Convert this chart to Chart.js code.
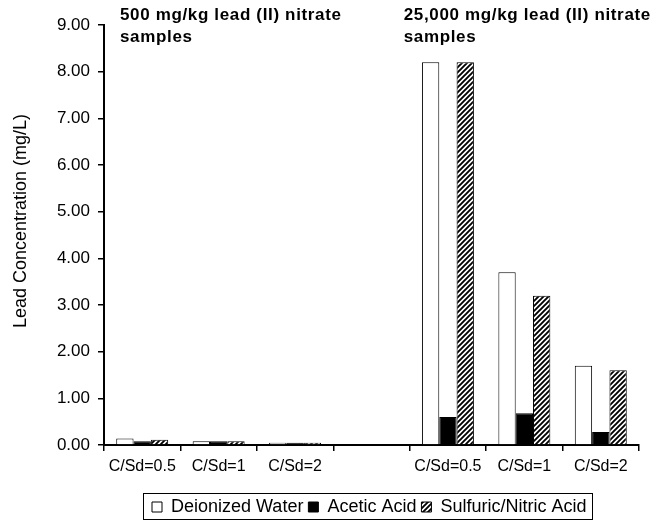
<!DOCTYPE html>
<html>
<head>
<meta charset="utf-8">
<script src="https://cdn.jsdelivr.net/npm/chart.js@4"></script>
<style>
html,body{margin:0;padding:0;background:#fff;}
#wrap{width:661px;height:521px;position:relative;}
</style>
</head>
<body>
<div id="wrap"><canvas id="c" width="661" height="521"></canvas></div>
<script>
const categories = ['C/Sd=0.5','C/Sd=1','C/Sd=2','','C/Sd=0.5','C/Sd=1','C/Sd=2'];
const deionizedWater = [0.14, 0.08, 0.05, null, 8.20, 3.70, 1.70];
const aceticAcid = [0.08, 0.08, 0.05, null, 0.60, 0.68, 0.28];
const sulfuricNitricAcid = [0.11, 0.08, 0.05, null, 8.20, 3.20, 1.60];
const seriesNames = ['Deionized Water','Acetic Acid','Sulfuric/Nitric Acid'];
const yTicks = [0,1,2,3,4,5,6,7,8,9];
const yTitle = 'Lead Concentration (mg/L)';
const groupTitles = [
  ['500 mg/kg lead (II) nitrate','samples'],
  ['25,000 mg/kg lead (II) nitrate','samples']
];

const FONT = "'Liberation Sans', Arial, sans-serif";

function makeHatch(){
  const p = document.createElement('canvas');
  p.width = 5; p.height = 5;
  const g = p.getContext('2d');
  g.fillStyle = '#fff'; g.fillRect(0,0,5,5);
  g.strokeStyle = '#000'; g.lineWidth = 1.9;
  g.beginPath();
  g.moveTo(-1,6); g.lineTo(6,-1);
  g.moveTo(-1,1); g.lineTo(1,-1);
  g.moveTo(4,6); g.lineTo(6,4);
  g.stroke();
  return document.getElementById('c').getContext('2d').createPattern(p,'repeat');
}
const hatch = makeHatch();

const LEGEND_FIRST_BOX_X = 152;
const LEGEND_DY = 5;

const annotate = {
  id:'annotate',
  afterUpdate(chart){
    const lg = chart.legend;
    if (!lg || !lg.legendHitBoxes || !lg.legendHitBoxes.length) return;
    const minLeft = Math.min(...lg.legendHitBoxes.map(h=>h.left));
    const dx = LEGEND_FIRST_BOX_X - minLeft;
    lg.left += dx; lg.right += dx;
    lg.top += LEGEND_DY; lg.bottom += LEGEND_DY;
    lg.legendHitBoxes.forEach(h=>{ h.left += dx; h.top += LEGEND_DY; });
  },
  afterDraw(chart){
    const ctx = chart.ctx;
    const x = chart.scales.x;
    const y = chart.scales.y;
    const catW = x.width / categories.length;
    ctx.save();
    ctx.fillStyle = '#000';
    // y-axis title
    ctx.save();
    ctx.font = "18px " + FONT;
    ctx.textAlign = 'center';
    ctx.textBaseline = 'middle';
    ctx.translate(21, (y.top + y.bottom)/2 - 14);
    ctx.rotate(-Math.PI/2);
    ctx.fillText(yTitle, 0, 0);
    ctx.restore();
    // group annotations
    ctx.font = "bold 17px " + FONT;
    try { ctx.letterSpacing = '0.65px'; } catch(e) {}
    ctx.textBaseline = 'top';
    ctx.textAlign = 'left';
    const starts = [x.getPixelForValue(0) - catW/2 + 16, x.getPixelForValue(4) - catW/2 - 6];
    groupTitles.forEach((t,i)=>{
      ctx.fillText(t[0], starts[i], 7);
      ctx.fillText(t[1], starts[i], 29);
    });
    try { ctx.letterSpacing = '0px'; } catch(e) {}
    // legend frame
    const lg = chart.legend;
    if (lg && lg.legendHitBoxes && lg.legendHitBoxes.length){
      const hb = lg.legendHitBoxes;
      const l = Math.min(...hb.map(h=>h.left)) - 9;
      const r = Math.max(...hb.map(h=>h.left+h.width)) + 6;
      const t = Math.min(...hb.map(h=>h.top)) - 5;
      const b = Math.max(...hb.map(h=>h.top+h.height)) + 3;
      ctx.strokeStyle = '#000';
      ctx.lineWidth = 1;
      ctx.strokeRect(Math.round(l)+0.5, Math.round(t)+0.5, Math.round(r-l), Math.round(b-t));
    }
    ctx.restore();
  }
};

new Chart(document.getElementById('c'), {
  type:'bar',
  data:{
    labels: categories,
    datasets:[
      {label:seriesNames[0], data:deionizedWater, backgroundColor:'#fff', borderColor:'#000', borderWidth:1},
      {label:seriesNames[1], data:aceticAcid, backgroundColor:'#000', borderColor:'#000', borderWidth:1},
      {label:seriesNames[2], data:sulfuricNitricAcid, backgroundColor:hatch, borderColor:'#000', borderWidth:1}
    ]
  },
  plugins:[annotate],
  options:{
    responsive:false,
    animation:false,
    devicePixelRatio:1,
    layout:{padding:{top:25,right:22,left:0,bottom:0}},
    datasets:{bar:{categoryPercentage:0.68, barPercentage:1.0}},
    plugins:{
      tooltip:{enabled:false},
      legend:{
        position:'bottom',
        labels:{
          color:'#000',
          font:{family:FONT,size:18},
          boxWidth:10, boxHeight:10, padding:5,
          generateLabels(chart){
            return chart.data.datasets.map((d,i)=>({
              text:d.label, fillStyle:d.backgroundColor, strokeStyle:'#000', lineWidth:1,
              fontColor:'#000', datasetIndex:i, hidden:false
            }));
          }
        }
      }
    },
    scales:{
      x:{
        offset:true,
        afterFit(axis){ axis.height = 43; },
        grid:{drawOnChartArea:false, offset:true, tickLength:6, color:'#000', lineWidth:1.5},
        border:{color:'#000', width:2},
        ticks:{color:'#000', font:{family:FONT,size:16}, maxRotation:0, autoSkip:false, padding:6}
      },
      y:{
        min:0, max:9,
        afterBuildTicks(axis){ axis.ticks = yTicks.map(v=>({value:v})); },
        afterFit(axis){ axis.width = 104; },
        grid:{drawOnChartArea:false, tickLength:6, color:'#000', lineWidth:1.5},
        border:{color:'#000', width:2},
        ticks:{color:'#000', font:{family:FONT,size:17}, padding:8, callback:v=>Number(v).toFixed(2)}
      }
    }
  }
});
</script>
</body>
</html>
